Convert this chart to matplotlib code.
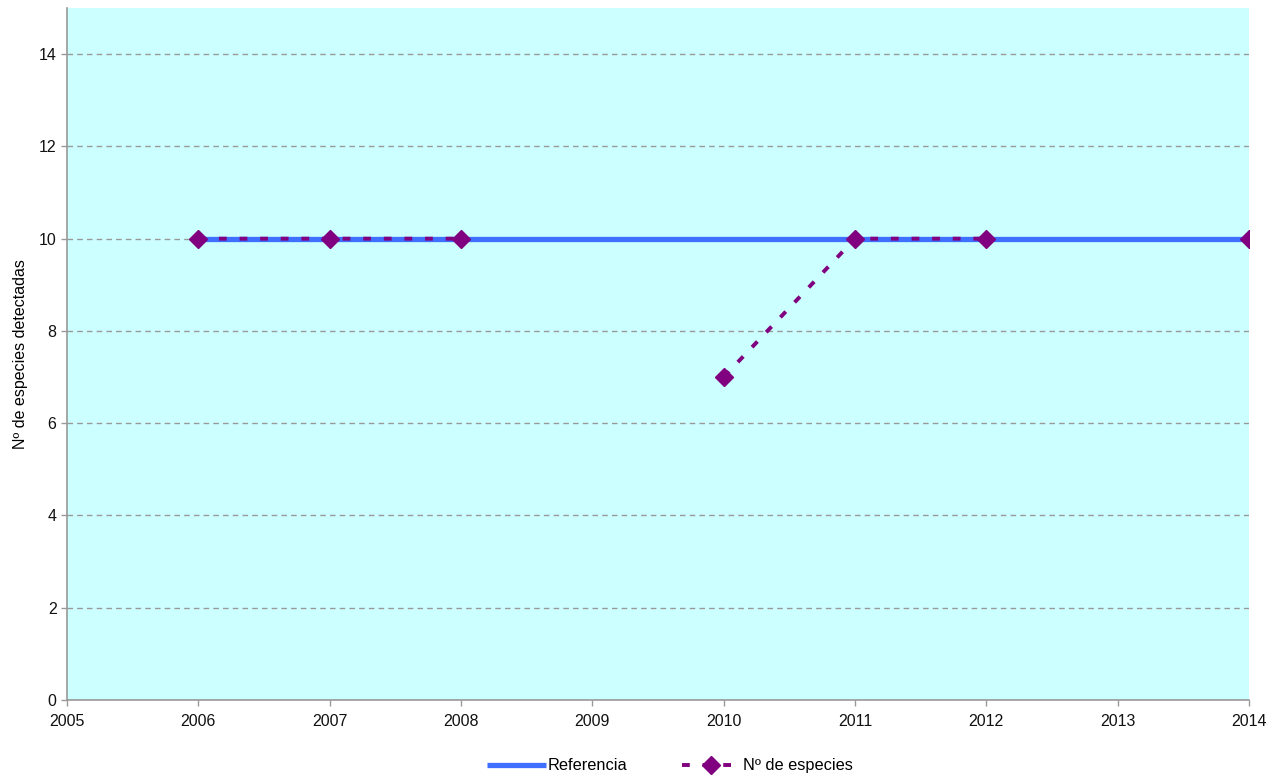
import numpy as np
import matplotlib
matplotlib.use("Agg")
import matplotlib.pyplot as plt

plt.rcParams['font.family'] = ['Liberation Sans', 'DejaVu Sans']

years = [2006, 2007, 2008, 2009, 2010, 2011, 2012, 2013, 2014]
referencia = [10, 10, 10, 10, 10, 10, 10, 10, 10]
especies = [10, 10, 10, np.nan, 7, 10, 10, np.nan, 10]

fig = plt.figure(figsize=(12.81, 7.79), dpi=100)
ax = fig.add_axes([67/1281, 79/779, (1249-67)/1281, (700-8)/779])
ax.set_facecolor('#CCFFFF')

ax.plot(years, referencia, color='#3F6FFF', lw=3.8, solid_capstyle='butt', zorder=3,
        label='Referencia')
ax.plot(years, especies, color='#800080', lw=2.8, dashes=(2.0, 3.3), marker='D',
        markersize=9, zorder=4, label='Nº de especies')

ax.set_xlim(2005, 2014)
ax.set_ylim(0, 15)
ax.set_xticks(range(2005, 2015))
ax.set_yticks(range(0, 16, 2))
ax.yaxis.grid(True, color='#999999', linestyle=(0, (4, 3)), lw=1.0)
ax.set_axisbelow(True)

for s in ['top', 'right']:
    ax.spines[s].set_visible(False)
for s in ['left', 'bottom']:
    ax.spines[s].set_color('#999999')
    ax.spines[s].set_linewidth(1.2)
ax.tick_params(axis='both', colors='#999999', labelcolor='#111111', labelsize=11.5,
               length=4, width=1)
ax.tick_params(axis='x', pad=6)

ax.set_ylabel('Nº de especies detectadas', fontsize=11.5)
ax.yaxis.set_label_coords(-0.033, 0.5)

leg = ax.legend(loc='center', bbox_to_anchor=(0.51, -0.095), ncol=2, frameon=False,
                fontsize=11.8, handlelength=3.6, columnspacing=3.3, handletextpad=0.15)

fig.savefig('out.png', dpi=100)
